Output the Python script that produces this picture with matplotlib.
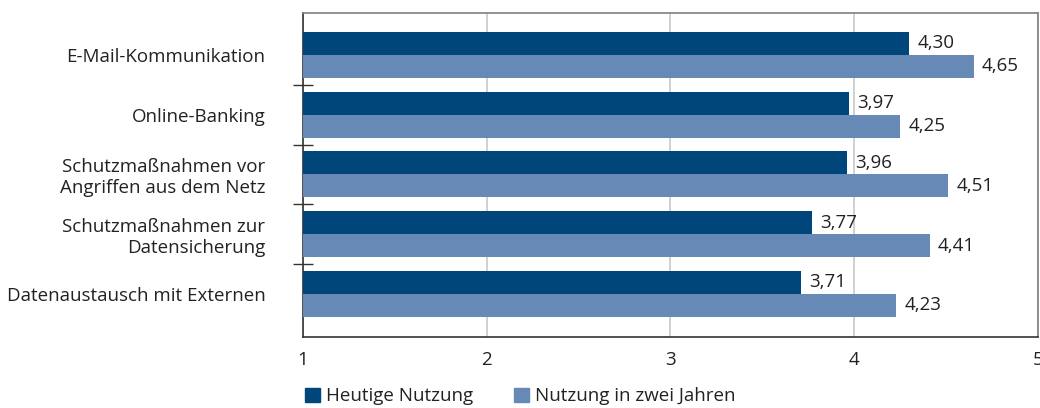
import numpy as np
import matplotlib
matplotlib.use("Agg")
import matplotlib.pyplot as plt
from matplotlib.patches import Patch

plt.rcParams["font.family"] = ["Open Sans", "DejaVu Sans"]

categories = [
    "E-Mail-Kommunikation",
    "Online-Banking",
    "Schutzmaßnahmen vor\nAngriffen aus dem Netz",
    "Schutzmaßnahmen zur\nDatensicherung",
    "Datenaustausch mit Externen",
]
heute = [4.30, 3.97, 3.96, 3.77, 3.71]
zwei_jahre = [4.65, 4.25, 4.51, 4.41, 4.23]
series_labels = ["Heutige Nutzung", "Nutzung in zwei Jahren"]
xticks = [1, 2, 3, 4, 5]

dark = "#00467a"
light = "#6689b5"
txt = "#222222"
fs = 13.5

fig = plt.figure(figsize=(10.4, 4.08), dpi=100)
ax = fig.add_axes([0.2913, 0.174, 0.998 - 0.2913, 0.968 - 0.174])

y = np.arange(len(categories))
h = 0.385
base = 1
ax.barh(y - h / 2, np.array(heute) - base, left=base, height=h, color=dark, zorder=3)
ax.barh(y + h / 2, np.array(zwei_jahre) - base, left=base, height=h, color=light, zorder=3)

for yi, v in zip(y, heute):
    ax.text(v + 0.045, yi - h / 2, f"{v:.2f}".replace(".", ","), va="center", ha="left",
            fontsize=fs, color=txt)
for yi, v in zip(y, zwei_jahre):
    ax.text(v + 0.045, yi + h / 2, f"{v:.2f}".replace(".", ","), va="center", ha="left",
            fontsize=fs, color=txt)

ax.set_xlim(1, 5)
ax.set_ylim(4.72, -0.70)
ax.set_xticks(xticks)
ax.set_xticklabels([str(t) for t in xticks], fontsize=fs, color=txt)
ax.tick_params(axis="x", length=0, pad=10)

# category labels as minor ticks, boundary ticks as major
ax.set_yticks(y[:-1] + 0.5)
ax.set_yticklabels([])
ax.tick_params(axis="y", which="major", direction="inout", length=14, width=1, color="#333333")
ax.set_yticks(y, minor=True)
ax.set_yticklabels(categories, minor=True, fontsize=fs, color=txt, ha="right")
ax.tick_params(axis="y", which="minor", length=0, pad=27)

ax.grid(axis="x", color="#c8c8c8", linewidth=1.2, zorder=0)
ax.spines["left"].set_color("#333333")
ax.spines["bottom"].set_color("#333333")
ax.spines["top"].set_color("#808080")
ax.spines["right"].set_color("#808080")
for s in ax.spines.values():
    s.set_linewidth(1.2)

handles = [Patch(color=dark), Patch(color=light)]
fig.legend(handles, series_labels, loc="lower left", bbox_to_anchor=(0.2775, -0.035),
           ncol=2, frameon=False, fontsize=fs, handlelength=0.8, handleheight=0.8,
           handletextpad=0.3, columnspacing=2.2, labelcolor=txt)

fig.savefig("out.png", dpi=100)
